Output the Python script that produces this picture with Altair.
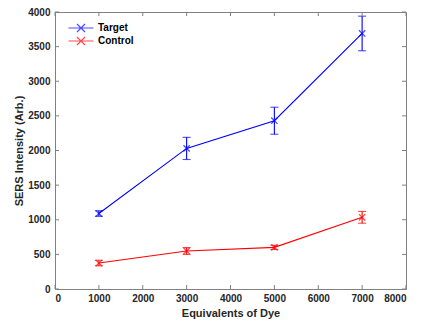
import altair as alt
import pandas as pd

x_vals = [1000, 3000, 5000, 7000]
target = [1090, 2030, 2430, 3690]
target_err = [40, 160, 195, 250]
control = [375, 549, 601, 1035]
control_err = [40, 50, 30, 85]
series_names = ["Target", "Control"]
series_colors = ["#0000ff", "#ff0000"]
x_ticks = [0, 1000, 2000, 3000, 4000, 5000, 6000, 7000, 8000]
y_ticks = [0, 500, 1000, 1500, 2000, 2500, 3000, 3500, 4000]

rows = []
for name, ys, es in [("Target", target, target_err), ("Control", control, control_err)]:
    for xv, yv, ev in zip(x_vals, ys, es):
        rows.append({"series": name, "x": xv, "y": yv, "lo": yv - ev, "hi": yv + ev})
df = pd.DataFrame(rows)

W, H = 351, 277
font = "Liberation Sans"
txt = "#262626"

xscale = alt.Scale(domain=[0, 8000], nice=False, zero=False)
yscale = alt.Scale(domain=[0, 4000], nice=False, zero=False)
cscale = alt.Scale(domain=series_names, range=series_colors)

x_axis = alt.Axis(values=x_ticks, title="Equivalents of Dye", grid=False,
                  ticks=False, domain=False, labelPadding=4, titlePadding=4, format="d", labelOverlap=False)
y_axis = alt.Axis(values=y_ticks, title="SERS Intensity (Arb.)", grid=False,
                  ticks=False, domain=False, labelPadding=5, titlePadding=3, format="d", labelOverlap=False)

base = alt.Chart(df)

legend = alt.Legend(
    title=None, orient="none", legendX=20, legendY=10, padding=0,
    symbolType="M-2.5,0L2.5,0M-0.8,-0.8L0.8,0.8M-0.8,0.8L0.8,-0.8",
    symbolSize=100, symbolStrokeWidth=1.2, symbolFillColor="transparent",
    labelFont=font, labelFontSize=10, labelFontWeight="bold", labelColor="#000000",
    rowPadding=-2, labelOffset=11,
)
C = alt.Color("series:N", scale=cscale, legend=legend)

def XQ(f):
    return alt.X(f, scale=xscale, axis=x_axis)

def YQ(f):
    return alt.Y(f, scale=yscale, axis=y_axis)

line = base.mark_line(strokeWidth=1.1).encode(x=XQ("x:Q"), y=YQ("y:Q"), color=C)
pts = base.mark_point(shape="M-1,-1L1,1M-1,1L1,-1", size=40, filled=False, strokeWidth=1.3).encode(
    x=XQ("x:Q"), y=YQ("y:Q"), color=C)
err = base.mark_rule(strokeWidth=1.1).encode(x=XQ("x:Q"), y=YQ("lo:Q"), y2="hi:Q", color=C)
cap_lo = base.mark_tick(size=8, thickness=1.1, orient="horizontal").encode(
    x=XQ("x:Q"), y=YQ("lo:Q"), color=C)
cap_hi = base.mark_tick(size=8, thickness=1.1, orient="horizontal").encode(
    x=XQ("x:Q"), y=YQ("hi:Q"), color=C)

xt = pd.DataFrame({"t": x_ticks})
yt = pd.DataFrame({"t": y_ticks})
tick_col = "#808080"
xb = alt.Chart(xt).mark_rule(color=tick_col, strokeWidth=1).encode(
    x=XQ("t:Q"), y=alt.value(H), y2=alt.value(H - 4))
xtp = alt.Chart(xt).mark_rule(color=tick_col, strokeWidth=1).encode(
    x=XQ("t:Q"), y=alt.value(0), y2=alt.value(4))
yl = alt.Chart(yt).mark_rule(color=tick_col, strokeWidth=1).encode(
    y=YQ("t:Q"), x=alt.value(0), x2=alt.value(4))
yr = alt.Chart(yt).mark_rule(color=tick_col, strokeWidth=1).encode(
    y=YQ("t:Q"), x=alt.value(W), x2=alt.value(W - 4))

chart = alt.layer(line, pts, err, cap_lo, cap_hi, xb, xtp, yl, yr).properties(
    width=W, height=H,
    autosize=alt.AutoSizeParams(type="none"),
    padding={"left": 47, "top": 4, "right": 7, "bottom": 32},
    background="white",
).configure_view(stroke="#808080", strokeWidth=1).configure_axis(
    labelFont=font, labelFontSize=10, labelFontWeight="bold", labelColor=txt,
    titleFont=font, titleFontSize=11, titleFontWeight="bold", titleColor=txt,
)

chart.save("out.html", embed_options={"renderer": "svg", "actions": False})
